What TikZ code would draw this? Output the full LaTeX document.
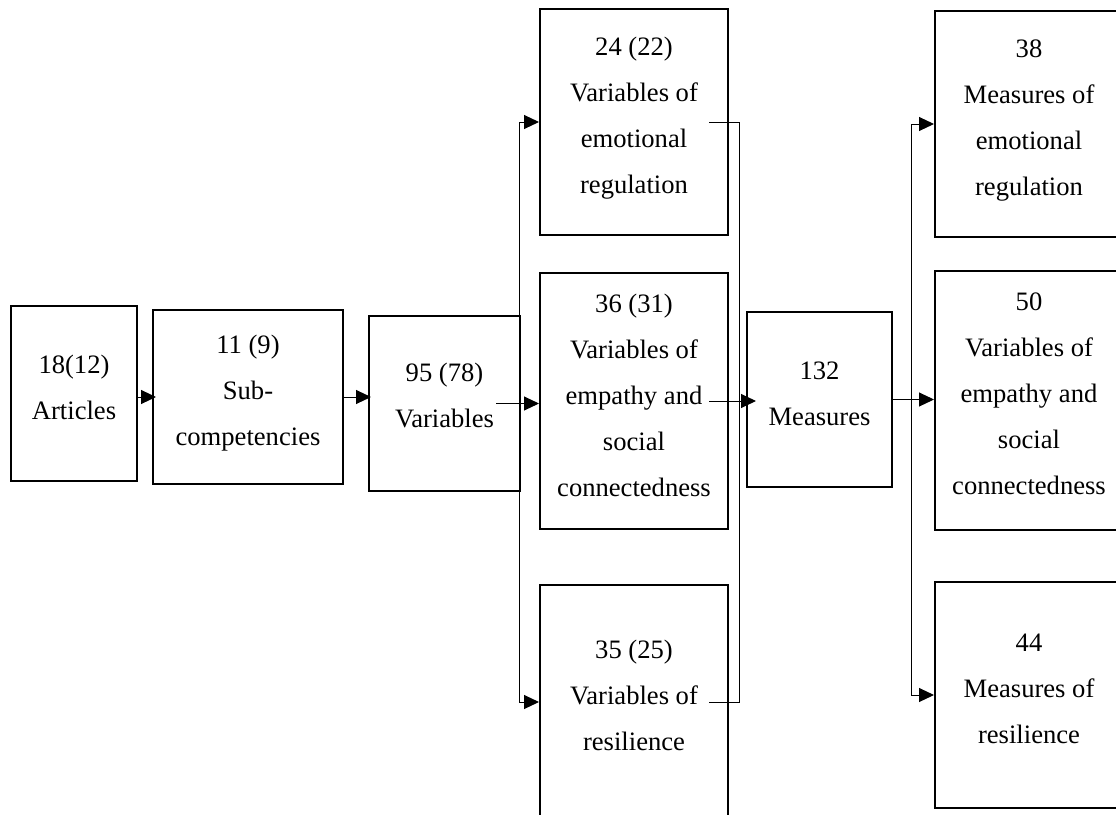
\documentclass[tikz,border=0pt]{standalone}
\usepackage{fontspec}
\setmainfont{Liberation Serif}
\usetikzlibrary{arrows.meta}

\begin{document}
\begin{tikzpicture}[x=1pt,y=-1pt,>={Triangle[length=15pt,width=14pt]},
   stagebox/.style 2 args={draw,line width=2pt,inner sep=0pt,minimum width=#1,minimum height=#2},
   stagetext/.style={anchor=base,align=flush center,text width=180pt,inner sep=0pt,font=\fontsize{26.6}{46}\selectfont},
   arrowline/.style={->,line width=1pt},
   plainline/.style={line width=1pt}]

  \useasboundingbox (0,0) rectangle (1116,814);
  \clip (0,0) rectangle (1116,814);

  % frames
  \node[stagebox={126}{175}](articles) at (74,393.5) {};
  \node[stagebox={190}{174}](subcomp) at (248,397) {};
  \node[stagebox={151}{175}](variables) at (444.5,403.5) {};
  \node[stagebox={188}{226}](varemo) at (634,122) {};
  \node[stagebox={188}{256}](varemp) at (634,401) {};
  \node[stagebox={188}{234}](varres) at (634,702) {};
  \node[stagebox={145}{175}](measures) at (819.5,399.5) {};
  \node[stagebox={188}{226}](measemo) at (1029,124) {};
  \node[stagebox={188}{259}](measemp) at (1029,400.5) {};
  \node[stagebox={188}{226}](measres) at (1029,695) {};

  % texts (first baseline)
  \node[stagetext](articles-t) at (74,373) {18(12)\\Articles};
  \node[stagetext](subcomp-t) at (248,353) {11 (9)\\Sub-\\competencies};
  \node[stagetext](variables-t) at (444.5,381) {95 (78)\\Variables};
  \node[stagetext](varemo-t) at (634,55.5) {24 (22)\\Variables of\\emotional\\regulation};
  \node[stagetext](varemp-t) at (634,312.5) {36 (31)\\Variables of\\empathy and\\social\\connectedness};
  \node[stagetext](varres-t) at (634,658) {35 (25)\\Variables of\\resilience};
  \node[stagetext](measures-t) at (819.5,379) {132\\Measures};
  \node[stagetext](measemo-t) at (1029,57.5) {38\\Measures of\\emotional\\regulation};
  \node[stagetext](measemp-t) at (1029,310.5) {50\\Variables of\\empathy and\\social\\connectedness};
  \node[stagetext](measres-t) at (1029,651.5) {44\\Measures of\\resilience};

  % connectors
  \draw[arrowline,shorten >=-4pt] (articles.east |- subcomp.west) -- (subcomp.west);
  \draw[arrowline,shorten >=-3pt] (subcomp.east) -- (variables.west |- subcomp.east);
  \draw[arrowline] ([xshift=-25pt]variables.east) -- (varemp.west |- variables.east);
  \coordinate (fork1) at ([xshift=-2pt]variables.east);
  \foreach \to in {varemo,varres} \draw[arrowline] (fork1) |- (\to.west);
  \draw[plainline] ([xshift=-20pt]varemo.east) -- ++(30,0) |- ([xshift=-20pt]varres.east);
  \draw[arrowline,shorten >=-10pt] ([xshift=-20pt]varemp.east) -- (measures.west |- varemp.east);
  \coordinate (fork2) at ([xshift=18pt]measures.east);
  \draw[arrowline] (measures.east) -- (measemp.west |- measures.east);
  \foreach \to in {measemo,measres} \draw[arrowline] (fork2) |- (\to.west);
\end{tikzpicture}
\end{document}
